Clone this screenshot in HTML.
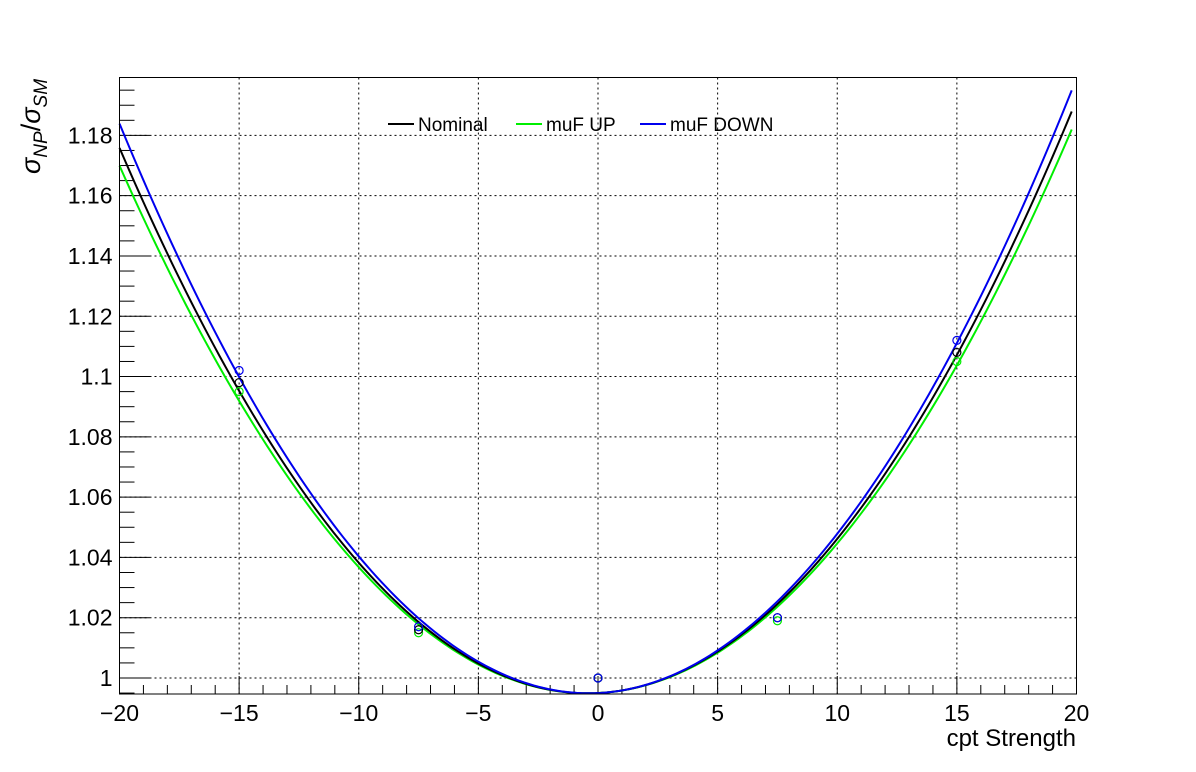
<!DOCTYPE html>
<html><head><meta charset="utf-8"><style>body{margin:0;background:#fff}svg{display:block}text{font-family:"Liberation Sans",sans-serif}</style></head>
<body>
<svg id="chart" width="1196" height="772">
<rect width="1196" height="772" fill="#fff"/>
<g id="grid"></g>
<g id="axes"></g>
<g id="series"></g>
<rect x="119.5" y="77.5" width="957" height="616.5" fill="none" stroke="#000" stroke-width="1"/>
<g>
  <g><line x1="388" y1="124" x2="414" y2="124" stroke="#000" stroke-width="2"/><text x="418" y="131" font-size="19">Nominal</text></g>
  <g><line x1="516" y1="124" x2="542" y2="124" stroke="#00ee00" stroke-width="2"/><text x="546" y="131" font-size="19">muF UP</text></g>
  <g><line x1="640" y1="124" x2="666" y2="124" stroke="#0000ee" stroke-width="2"/><text x="670" y="131" font-size="19">muF DOWN</text></g>
</g>
<text x="1076" y="746" font-size="24" text-anchor="end">cpt Strength</text>
<text transform="translate(40,174) rotate(-90)" font-size="27"><tspan font-style="italic">σ</tspan><tspan font-size="19" dy="7" font-style="italic">NP</tspan><tspan dy="-7">/</tspan><tspan font-style="italic">σ</tspan><tspan font-size="19" dy="7" font-style="italic">SM</tspan></text>
</svg>
<script>
const xTicks=[-20,-15,-10,-5,0,5,10,15,20];
const yTicks=[1,1.02,1.04,1.06,1.08,1.1,1.12,1.14,1.16,1.18];
const yTickLabels=["1","1.02","1.04","1.06","1.08","1.1","1.12","1.14","1.16","1.18"];
const pointX=[-15,-7.5,0,7.5,15];
const nominalPts=[1.098,1.016,1.0,1.02,1.108];
const upPts=[1.095,1.015,1.0,1.019,1.105];
const downPts=[1.102,1.017,1.0,1.02,1.112];
// quadratic fit coefficients [a,b,c]: a + b x + c x^2
const nominalFit=[0.995,0.000397,0.000472];
const upFit=[0.995,0.000393,0.000457];
const downFit=[0.995,0.000375,0.000491];
const fitRange=[-20,19.8];
const X0=-20,X1=20,Y0=0.99469,Y1=1.1992;
const L=119.5,R=1076.5,T=77.5,B=694;
const sx=v=>L+(v-X0)/(X1-X0)*(R-L);
const sy=v=>B-(v-Y0)/(Y1-Y0)*(B-T);
const NS="http://www.w3.org/2000/svg";
function mk(p,tag,attrs){const e=document.createElementNS(NS,tag);for(const k in attrs)e.setAttribute(k,attrs[k]);p.appendChild(e);return e;}
const grid=document.getElementById('grid'),axes=document.getElementById('axes'),ser=document.getElementById('series');
xTicks.forEach(v=>{
  if(v>X0&&v<X1){const g=mk(grid,'line',{x1:sx(v),x2:sx(v),y1:T,y2:B,stroke:'#000','stroke-dasharray':'2,3','stroke-width':1});
  
  }
  const t=mk(axes,'line',{x1:sx(v),x2:sx(v),y1:B,y2:B-18,stroke:'#000'});
  
  
  const lb=mk(axes,'text',{x:sx(v),y:B+27,'font-size':23,'text-anchor':'middle'});
  lb.textContent=(v<0?'\u2212'+(-v):String(v));
  
  
});
for(let v=X0;v<=X1;v+=1){if(v%5!==0)mk(axes,'line',{x1:sx(v),x2:sx(v),y1:B,y2:B-9,stroke:'#000'});}
yTicks.forEach((v,i)=>{
  const g=mk(grid,'line',{x1:L,x2:R,y1:sy(v),y2:sy(v),stroke:'#000','stroke-dasharray':'2,3','stroke-width':1});
  
  
  const t=mk(axes,'line',{x1:L,x2:L+30,y1:sy(v),y2:sy(v),stroke:'#000'});
  
  
  const lb=mk(axes,'text',{x:L-7,y:sy(v)+8,'font-size':23,'text-anchor':'end'});
  lb.textContent=yTickLabels[i];
  
  
});
for(let k=0;k<=41;k++){const v=0.995+k*0.005;if(v>Y1)break;if(Math.abs((v-1)/0.02-Math.round((v-1)/0.02))>1e-6)mk(axes,'line',{x1:L,x2:L+15,y1:sy(v),y2:sy(v),stroke:'#000'});}
function drawFit(c,color,name){
  let d='';for(let i=0;i<=200;i++){const x=fitRange[0]+(fitRange[1]-fitRange[0])*i/200;const y=c[0]+c[1]*x+c[2]*x*x;d+=(i?'L':'M')+sx(x).toFixed(2)+','+sy(y).toFixed(2);}
  const p=mk(ser,'path',{d:d,fill:'none',stroke:color,'stroke-width':2});
  
  
}
function drawPts(vals,color,name){
  vals.forEach((v,i)=>{const c=mk(ser,'circle',{cx:sx(pointX[i]),cy:sy(v),r:4,fill:'none',stroke:color,'stroke-width':1.2});
  
  });
}
drawFit(upFit,'#00ee00','muf-up-curve');
drawFit(nominalFit,'#000','nominal-curve');
drawFit(downFit,'#0000ee','muf-down-curve');
drawPts(upPts,'#00ee00','muf-up-point');
drawPts(nominalPts,'#000','nominal-point');
drawPts(downPts,'#0000ee','muf-down-point');
</script>
</body></html>
